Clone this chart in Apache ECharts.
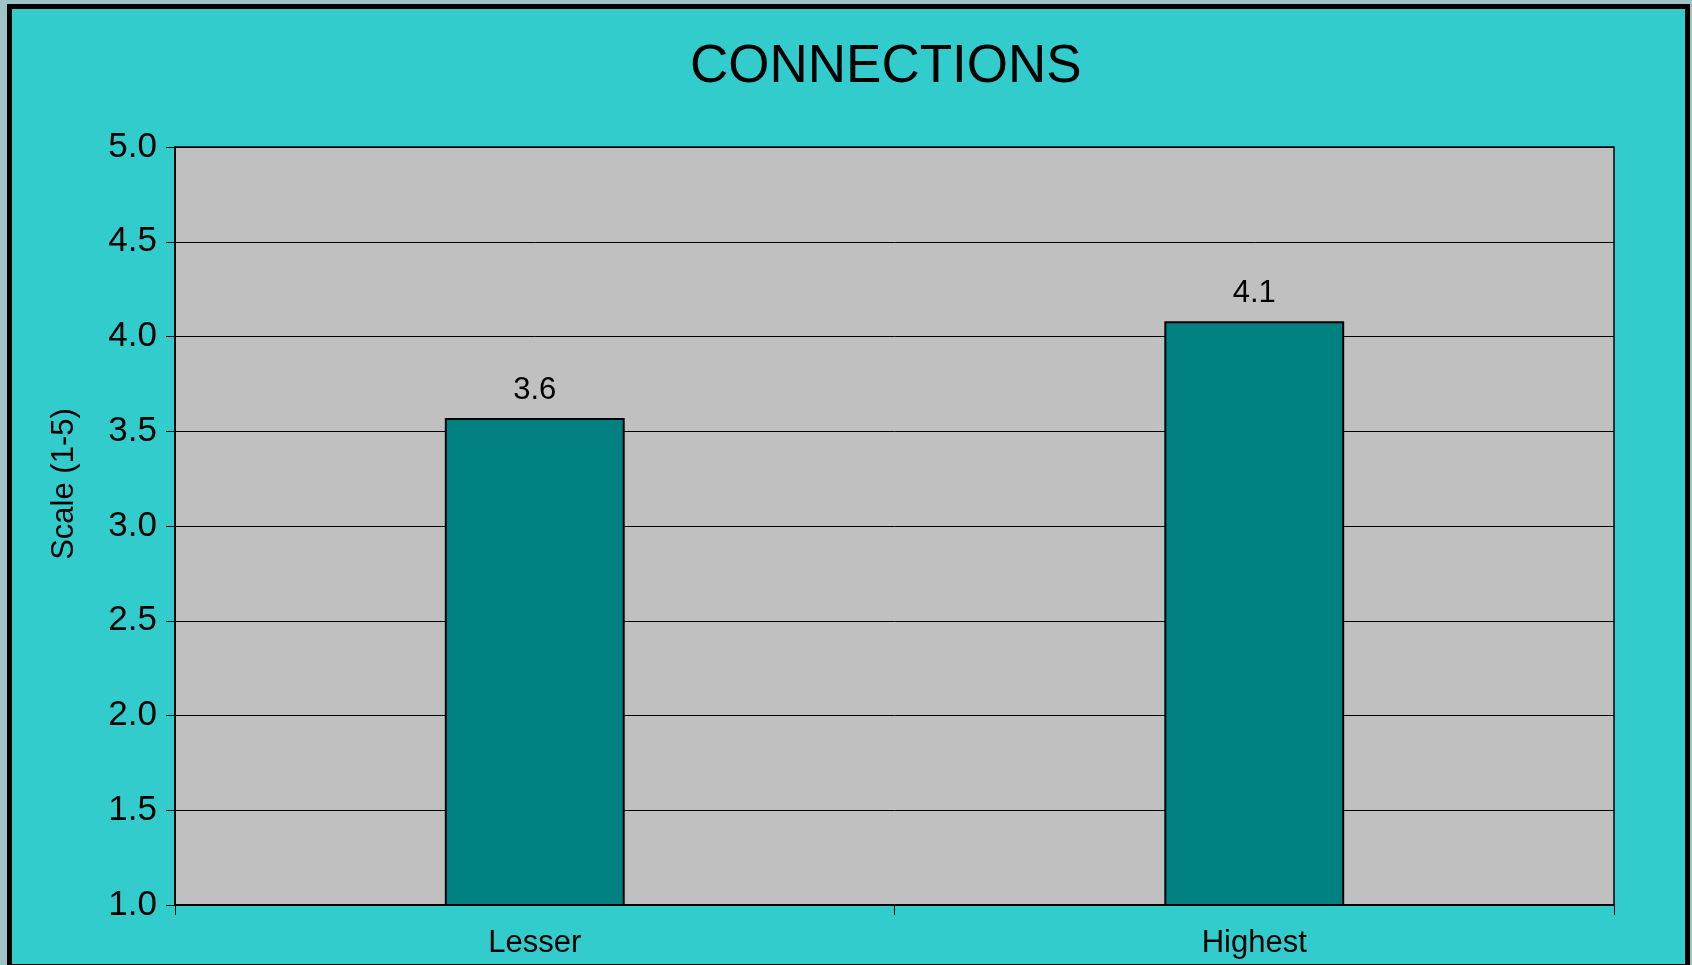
<!DOCTYPE html>
<html>
<head>
<meta charset="utf-8">
<script src="https://cdn.jsdelivr.net/npm/echarts@6/dist/echarts.min.js"></script>
<style>
html,body{margin:0;padding:0;background:#9fc3c5;}
#chart{width:1692px;height:965px;}
</style>
</head>
<body>
<div id="chart"></div>
<script>
const titleText = 'CONNECTIONS';
const categories = ['Lesser', 'Highest'];
const values = [3.57, 4.08];
const yAxisName = 'Scale (1-5)';
const yMin = 1, yMax = 5, yInterval = 0.5;

const FONT = 'Liberation Sans, Arial, sans-serif';
const chart = echarts.init(document.getElementById('chart'));
chart.setOption({
  backgroundColor: '#9fc3c5',
  animation: false,
  graphic: [{
    type: 'rect', z: -10, silent: true,
    shape: {x: 9.5, y: 6.5, width: 1678, height: 960},
    style: {fill: '#33cccc', stroke: '#000', lineWidth: 5}
  }],
  title: {
    text: titleText, left: 685, top: 36,
    textStyle: {fontFamily: FONT, fontSize: 53, fontWeight: 'normal', color: '#000'}
  },
  grid: {
    left: 175, top: 147, right: 78, bottom: 60,
    show: true, backgroundColor: '#c0c0c0', borderColor: '#000', borderWidth: 1.5
  },
  xAxis: {
    type: 'category', data: categories, boundaryGap: true,
    axisLine: {lineStyle: {color: '#000', width: 2}},
    axisTick: {show: true, alignWithLabel: false, length: 10, lineStyle: {color: '#000'}},
    axisLabel: {fontFamily: FONT, fontSize: 31, color: '#000', margin: 23},
    splitLine: {show: false}
  },
  yAxis: {
    type: 'value', min: yMin, max: yMax, interval: yInterval,
    name: yAxisName, nameLocation: 'middle', nameGap: 95, nameRotate: 90,
    nameTextStyle: {fontFamily: FONT, fontSize: 31, color: '#000', padding: [0, 0, 0, 84]},
    axisLine: {show: true, lineStyle: {color: '#000', width: 1.5}},
    axisTick: {show: true, length: 9, lineStyle: {color: '#000'}},
    axisLabel: {fontFamily: FONT, fontSize: 35, color: '#000', margin: 18,
      formatter: v => v.toFixed(1)},
    splitLine: {show: true, lineStyle: {color: '#000', width: 1}}
  },
  series: [{
    type: 'bar', data: values, barWidth: '25%',
    itemStyle: {color: '#008080', borderColor: '#000', borderWidth: 2},
    label: {show: true, position: 'top', distance: 12, fontFamily: FONT, fontSize: 31,
      color: '#000', formatter: p => p.value.toFixed(1)}
  }]
});
</script>
</body>
</html>
